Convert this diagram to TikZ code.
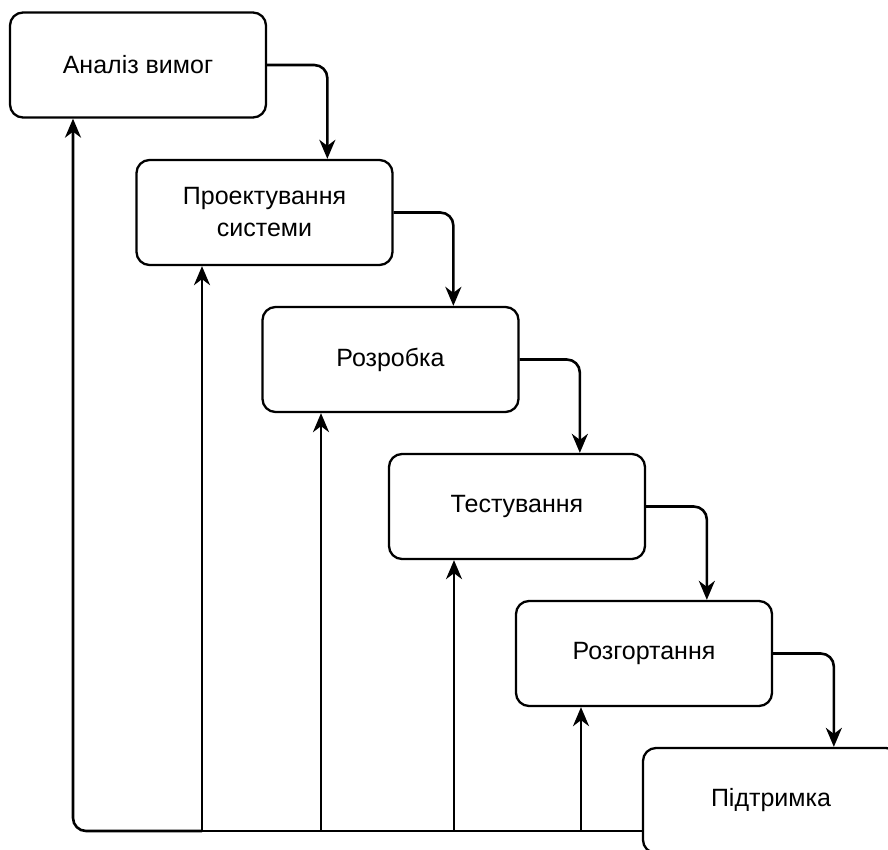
\documentclass[tikz,border=0pt]{standalone}
\usepackage{fontspec}
\setmainfont{Liberation Sans}
\usetikzlibrary{arrows.meta}
\begin{document}
\begin{tikzpicture}[x=1pt,y=-1pt,
  stage/.style={draw=black, line width=2.3pt, rounded corners=13pt, fill=white,
    minimum width=256pt, minimum height=105pt, inner sep=0pt, align=center,
    font=\fontsize{25}{32}\selectfont},
  conn/.style={draw=black, line width=2.6pt,
    -{Stealth[length=19pt,width=16pt,inset=6pt]}, rounded corners=13pt},
  line/.style={draw=black, line width=2.6pt, rounded corners=15pt}]
\useasboundingbox (0,0) rectangle (888,850);
\clip (0,0) rectangle (888,850);
\fill[white] (0,0) rectangle (888,850);
\node[stage] (b1) at (138,65) {Аналіз вимог};
\node[stage] (b2) at (264.5,212.5) {Проектування\\системи};
\node[stage] (b3) at (390.5,359.5) {Розробка};
\node[stage] (b4) at (517,506.5) {Тестування};
\node[stage] (b5) at (644,653.5) {Розгортання};
\node[stage] (b6) at (771,800.5) {Підтримка};
% forward arrows
\draw[conn] (b1.east) -| ([xshift=192pt]b2.north west);
\draw[conn] (b2.east) -| ([xshift=192pt]b3.north west);
\draw[conn] (b3.east) -| ([xshift=192pt]b4.north west);
\draw[conn] (b4.east) -| ([xshift=192pt]b5.north west);
\draw[conn] (b5.east) -| ([xshift=192pt]b6.north west);
% feedback
\coordinate (s6) at (643,831);
\coordinate (f1) at (73,831);
\coordinate (f2) at (202,831);
\coordinate (f3) at (321,831);
\coordinate (f4) at (454,831);
\coordinate (f5) at (581,831);
\draw[line] (s6) -- (f2);
\draw[conn] (f2) -- (f1) -- (f1 |- b1.south);
\draw[conn, rounded corners=0pt] (f2) -- (f2 |- b2.south);
\draw[conn, rounded corners=0pt] (f3) -- (f3 |- b3.south);
\draw[conn, rounded corners=0pt] (f4) -- (f4 |- b4.south);
\draw[conn, rounded corners=0pt] (f5) -- (f5 |- b5.south);
\end{tikzpicture}
\end{document}
